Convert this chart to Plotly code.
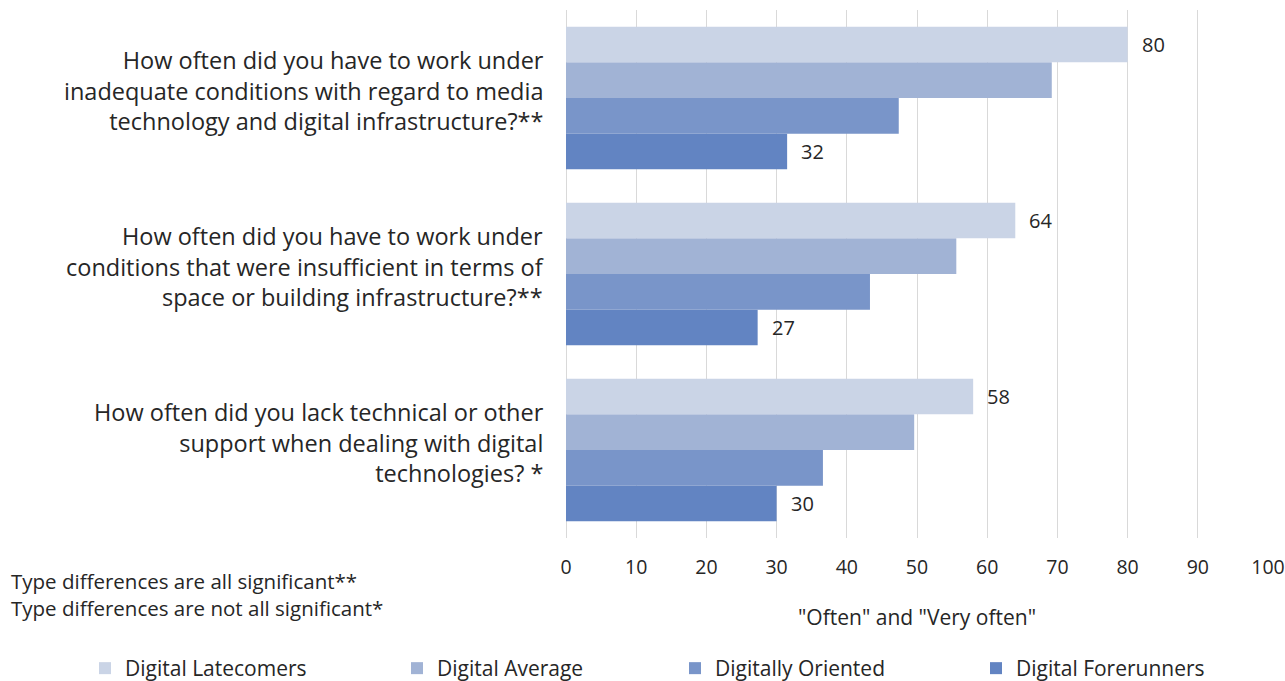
import plotly.graph_objects as go

# Survey items (top to bottom)
questions = [
    "How often did you have to work under<br>inadequate conditions with regard to media<br>technology and digital infrastructure?**",
    "How often did you have to work under<br>conditions that were insufficient in terms of<br>space or building infrastructure?**",
    "How often did you lack technical or other<br>support when dealing with digital<br>technologies? *",
]
cat_keys = ["q1", "q2", "q3"]

# Share answering "Often" or "Very often" (%)
latecomers = [80, 64, 58]
average = [69.2, 55.6, 49.6]
oriented = [47.4, 43.3, 36.6]
forerunners = [31.5, 27.3, 30.0]

series_names = ["Digital Latecomers", "Digital Average", "Digitally Oriented", "Digital Forerunners"]
series_values = [latecomers, average, oriented, forerunners]
series_colors = ["#cad4e6", "#a1b3d5", "#7995c9", "#6284c2"]
# series that carry a value label
labelled = ["Digital Latecomers", "Digital Forerunners"]

x_ticks = list(range(0, 101, 10))

notes = ["Type differences are all significant**",
         "Type differences are not all significant*"]

FONT = "Open Sans"
TEXT = "#262626"
BARGAP = 0.19

# plot area in pixels
W, H = 1285, 681
ML, MR, MT, MB = 566, 17, 10, 143
PW, PH = W - ML - MR, H - MT - MB


def px_x(x):
    return (x - ML) / PW


def px_y(y):
    return (MT + PH - y) / PH


# one legend box per series, laid out left to right along the bottom
legend_left = [85, 397, 675, 976]
legend_ids = ["legend", "legend2", "legend3", "legend4"]

fig = go.Figure()
# horizontal grouped bars put their first trace at the bottom of each group,
# so add the series in reverse to keep Latecomers on top
for i in range(len(series_names) - 1, -1, -1):
    fig.add_trace(go.Bar(
        y=cat_keys, x=series_values[i], name=series_names[i], orientation="h",
        marker=dict(color=series_colors[i], line=dict(width=0)),
        hoverinfo="x+name", legend=legend_ids[i],
    ))

legend_style = dict(
    orientation="h", xanchor="left", yanchor="top",
    y=px_y(648), font=dict(size=21, color=TEXT, family=FONT),
    itemsizing="constant", bgcolor="rgba(0,0,0,0)",
)
layout_legends = {lid: dict(legend_style, x=px_x(xl)) for lid, xl in zip(legend_ids, legend_left)}

fig.update_layout(
    barmode="group",
    bargap=BARGAP,
    bargroupgap=0,
    width=W, height=H,
    margin=dict(l=ML, r=MR, t=MT, b=MB, autoexpand=False),
    paper_bgcolor="white", plot_bgcolor="white",
    font=dict(family=FONT, color=TEXT, size=19),
    showlegend=True,
    **layout_legends,
)

fig.update_xaxes(
    range=[0, 100], tickvals=x_ticks, ticktext=[str(t) for t in x_ticks],
    showgrid=True, gridcolor="#d9d9d9", gridwidth=1.3,
    zeroline=True, zerolinecolor="#d9d9d9", zerolinewidth=1.3,
    showline=False, ticks="", ticklabelstandoff=15,
    tickfont=dict(size=19.5, color=TEXT),
    title=dict(text='"Often" and "Very often"', font=dict(size=21, color=TEXT), standoff=31),
    fixedrange=True,
)
cat_order = cat_keys[::-1]  # first entry sits at the bottom
fig.update_yaxes(
    categoryorder="array", categoryarray=cat_order,
    showticklabels=False, showgrid=False, zeroline=False, ticks="",
    fixedrange=True,
)

# Question texts, right-aligned beside the bars
for key, q in zip(cat_keys, questions):
    fig.add_annotation(
        x=0, xref="paper", y=cat_order.index(key), yref="y",
        text=q, showarrow=False, align="right",
        xanchor="right", yanchor="middle", xshift=-20, yshift=8,
        font=dict(size=23.5, color=TEXT, family=FONT),
    )

# Value labels at the end of the outer bars of each group
n = len(series_names)
slot = (1 - BARGAP) / n
drawn = series_names[::-1]
for name in labelled:
    vals = series_values[series_names.index(name)]
    idx = drawn.index(name)
    off = -0.5 + BARGAP / 2 + slot * (idx + 0.5)
    for key, v in zip(cat_keys, vals):
        fig.add_annotation(
            x=v, xref="x", y=cat_order.index(key) + off, yref="y",
            text=f"{round(v)}", showarrow=False,
            xanchor="left", yanchor="middle", xshift=12,
            font=dict(size=20, color=TEXT, family=FONT),
        )

# Significance notes
fig.add_annotation(
    x=px_x(12), xref="paper", y=px_y(594), yref="paper",
    text="<br>".join(notes), showarrow=False,
    xanchor="left", yanchor="middle", align="left", xshift=-3,
    font=dict(size=20.5, color=TEXT, family=FONT),
)

fig.write_html("out.html")
